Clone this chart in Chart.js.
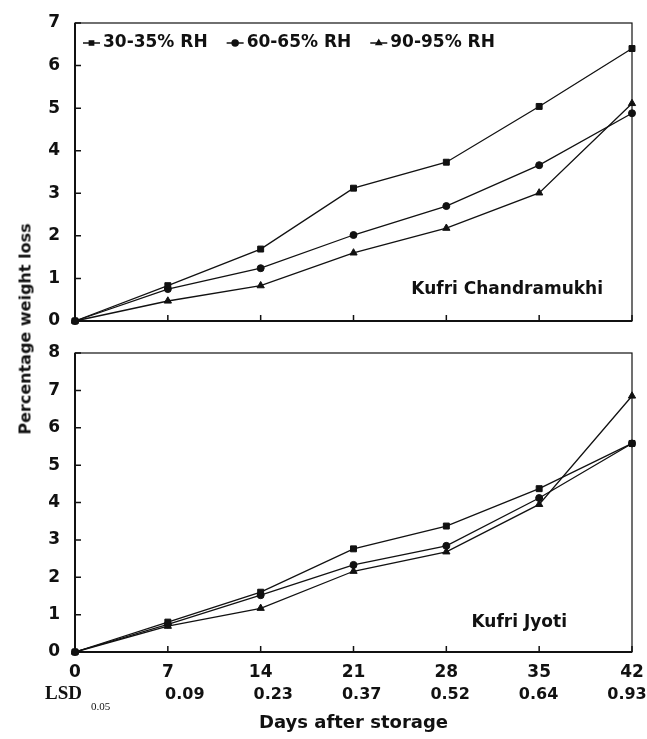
<!DOCTYPE html>
<html>
<head>
<meta charset="utf-8">
<script src="https://cdn.jsdelivr.net/npm/chart.js@4.4.1/dist/chart.umd.min.js"></script>
<style>
  html, body { margin: 0; padding: 0; background: #fff; }
  #wrap { position: relative; width: 647px; height: 739px; }
  #topChart { position: absolute; left: 0; top: 0; }
  #bottomChart { position: absolute; left: 0; top: 335px; }
  #ytitle {
    position: absolute; left: 25px; top: 329px;
    transform: translate(-50%, -50%) rotate(-90deg);
    font: bold 16px "DejaVu Sans"; white-space: nowrap; color: #111;
  }
  #lsd { position: absolute; left: 45px; top: 682px; font: bold 19px "Liberation Serif"; color: #111; }
  #lsd span { font: 11px "Liberation Serif"; position: relative; top: 11px; margin-left: 9px; }
</style>
</head>
<body>
<div id="wrap">
  <canvas id="topChart" width="647" height="335"></canvas>
  <canvas id="bottomChart" width="647" height="404"></canvas>
  <div id="ytitle">Percentage weight loss</div>
  <div id="lsd">LSD<span>0.05</span></div>
</div>
<script>
// days after storage and LSD (0.05) under each day
const days = [0, 7, 14, 21, 28, 35, 42];
const lsd = ["", "0.09", "0.23", "0.37", "0.52", "0.64", "0.93"];
const seriesLabels = ["30-35% RH", "60-65% RH", "90-95% RH"];

// Kufri Chandramukhi
const chandra30 = [0, 0.83, 1.69, 3.12, 3.73, 5.04, 6.40];
const chandra60 = [0, 0.75, 1.24, 2.02, 2.70, 3.66, 4.88];
const chandra90 = [0, 0.47, 0.83, 1.60, 2.18, 3.01, 5.11];

// Kufri Jyoti
const jyoti30 = [0, 0.80, 1.60, 2.76, 3.37, 4.37, 5.58];
const jyoti60 = [0, 0.74, 1.52, 2.33, 2.84, 4.12, 5.58];
const jyoti90 = [0, 0.69, 1.17, 2.16, 2.68, 3.95, 6.85];

const pointStyles = ["rect", "circle", "triangle"];
const ink = "#111";

Chart.defaults.font.family = '"DejaVu Sans"';
Chart.defaults.color = ink;

function makeDatasets(values) {
  return values.map((vals, i) => ({
    label: seriesLabels[i],
    data: days.map((d, j) => ({ x: d, y: vals[j] })),
    borderColor: ink,
    borderWidth: 1.3,
    backgroundColor: ink,
    pointStyle: pointStyles[i],
    pointRadius: pointStyles[i] === "circle" ? 3.5 : 4.2,
    pointBackgroundColor: ink,
    pointBorderColor: ink,
    pointBorderWidth: 1,
    clip: 10,
    tension: 0,
  }));
}

// box around the plot plus short inward ticks
const framePlugin = {
  id: "frame",
  beforeDatasetsDraw(chart) {
    const { ctx, chartArea: a, scales: { x, y } } = chart;
    ctx.save();
    ctx.strokeStyle = ink;
    ctx.lineWidth = 1.2;
    ctx.strokeRect(a.left, a.top, a.right - a.left, a.bottom - a.top);
    ctx.lineWidth = 2;
    ctx.beginPath();
    ctx.moveTo(a.left, a.top);
    ctx.lineTo(a.left, a.bottom);
    ctx.lineTo(a.right, a.bottom);
    ctx.stroke();
    ctx.lineWidth = 1.5;
    ctx.beginPath();
    x.ticks.forEach(t => {
      const px = x.getPixelForValue(t.value);
      ctx.moveTo(px, a.bottom);
      ctx.lineTo(px, a.bottom - 6);
    });
    y.ticks.forEach(t => {
      const py = y.getPixelForValue(t.value);
      ctx.moveTo(a.left, py);
      ctx.lineTo(a.left + 6, py);
    });
    ctx.stroke();
    ctx.restore();
  },
};

// cultivar name, legend and LSD row drawn around the plot area
const panelPlugin = {
  id: "panel",
  afterDraw(chart, args, opts) {
    const { ctx, chartArea: a, scales: { x } } = chart;
    ctx.save();
    ctx.fillStyle = ink;
    ctx.font = 'bold 17px "DejaVu Sans"';
    ctx.textBaseline = "middle";
    ctx.textAlign = "right";
    ctx.fillText(opts.text, a.right - opts.right, a.bottom - opts.bottom);

    if (opts.legend) {
      ctx.textAlign = "left";
      let lx = a.left + 8;
      const ly = a.top + 20;
      chart.data.datasets.forEach(ds => {
        ctx.strokeStyle = ink;
        ctx.lineWidth = 1.5;
        ctx.beginPath();
        ctx.moveTo(lx, ly);
        ctx.lineTo(lx + 17, ly);
        ctx.stroke();
        Chart.helpers.drawPoint(ctx, { pointStyle: ds.pointStyle, radius: 3, borderWidth: 1, rotation: 0 }, lx + 8.5, ly);
        ctx.fillText(ds.label, lx + 20, ly);
        lx += 20 + ctx.measureText(ds.label).width + 19;
      });
    }

    if (opts.lsdRow) {
      // the LSD row is a table line, evenly spread a little inside the tick positions
      ctx.textAlign = "center";
      ctx.font = 'bold 16px "DejaVu Sans"';
      const first = x.getPixelForValue(days[1]) + 17;
      const last = x.getPixelForValue(days[days.length - 1]) - 5;
      const n = lsd.length - 1;
      for (let i = 1; i < lsd.length; i++) {
        const px = first + (last - first) * (i - 1) / (n - 1);
        ctx.fillText(lsd[i], px, a.bottom + 43);
      }
    }
    ctx.restore();
  },
};

const tickFont = { size: 17, weight: "bold" };

function fixY(s) {
  s.width = 75;
  s.paddingTop = 0;
  s.paddingBottom = 0;
}

new Chart(document.getElementById("topChart"), {
  type: "line",
  data: { datasets: makeDatasets([chandra30, chandra60, chandra90]) },
  options: {
    responsive: false,
    animation: false,
    devicePixelRatio: 1,
    layout: { padding: { top: 23, right: 15, left: 0, bottom: 0 } },
    plugins: {
      legend: { display: false },
      tooltip: { enabled: false },
      panel: { text: "Kufri Chandramukhi", right: 29, bottom: 31, legend: true },
    },
    scales: {
      x: {
        type: "linear", min: 0, max: 42,
        ticks: { stepSize: 7, display: false },
        grid: { display: false },
        border: { display: false },
        afterFit: s => {
          s.height = 14;
          s.paddingLeft = 0;
          s.paddingRight = 0;
        },
      },
      y: {
        min: 0, max: 7,
        ticks: { stepSize: 1, font: tickFont, padding: 7 },
        grid: { display: false },
        border: { display: false },
        afterFit: fixY,
      },
    },
  },
  plugins: [framePlugin, panelPlugin],
});

new Chart(document.getElementById("bottomChart"), {
  type: "line",
  data: { datasets: makeDatasets([jyoti30, jyoti60, jyoti90]) },
  options: {
    responsive: false,
    animation: false,
    devicePixelRatio: 1,
    layout: { padding: { top: 18, right: 15, left: 0, bottom: 0 } },
    plugins: {
      legend: { display: false },
      tooltip: { enabled: false },
      panel: { text: "Kufri Jyoti", right: 65, bottom: 29, legend: false, lsdRow: true },
    },
    scales: {
      x: {
        type: "linear", min: 0, max: 42,
        ticks: { stepSize: 7, font: tickFont, padding: 2, maxRotation: 0 },
        grid: { display: false },
        border: { display: false },
        title: {
          display: true,
          text: "Days after storage",
          font: { size: 18, weight: "bold" },
          padding: { top: 0, bottom: 5 },
        },
        afterFit: s => {
          s.height = 87;
          s.paddingLeft = 0;
          s.paddingRight = 0;
        },
      },
      y: {
        min: 0, max: 8,
        ticks: { stepSize: 1, font: tickFont, padding: 7 },
        grid: { display: false },
        border: { display: false },
        afterFit: fixY,
      },
    },
  },
  plugins: [framePlugin, panelPlugin],
});
</script>
</body>
</html>
